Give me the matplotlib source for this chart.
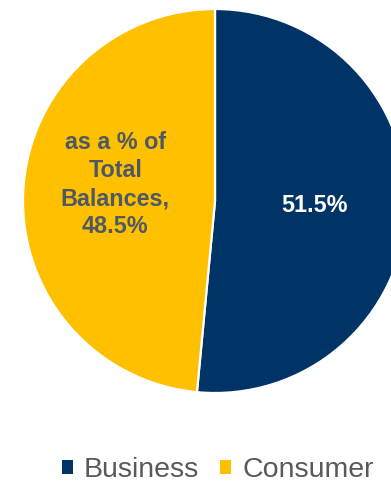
import matplotlib.pyplot as plt
from matplotlib.patches import Patch

plt.rcParams['font.family'] = ['Liberation Sans', 'DejaVu Sans']

# data
segments = ["Business", "Consumer"]
shares = [51.5, 48.5]
seg_colors = ["#003366", "#FFC000"]
label_colors = ["white", "#4F5966"]

W, H = 391, 483
fig = plt.figure(figsize=(W / 100, H / 100), dpi=100)

# pie centre (215, 201) px from top-left, radius 192 px
cx, cy, r = 215, 201, 192
ax = fig.add_axes([(cx - r) / W, (H - cy - r) / H, 2 * r / W, 2 * r / H])

wedges, texts, autotexts = ax.pie(
    shares,
    colors=seg_colors,
    startangle=90,
    counterclock=False,
    autopct=lambda p: "",
    pctdistance=0.52,
    wedgeprops=dict(edgecolor="white", linewidth=1.6),
)
ax.set_xlim(-1, 1)
ax.set_ylim(-1, 1)
ax.axis("off")

autotexts[0].set_text(f"{shares[0]:.1f}%")
autotexts[1].set_text(f"as a % of\nTotal\nBalances,\n{shares[1]:.1f}%")
x1, y1 = autotexts[1].get_position()
autotexts[1].set_position((x1, y1 + 0.06))
for t, c in zip(autotexts, label_colors):
    t.set_color(c)
    t.set_fontsize(16.8)
    t.set_fontweight("bold")
    t.set_ha("center")
    t.set_va("center")
    t.set_linespacing(1.28)

handles = [Patch(facecolor=c, edgecolor="none") for c in seg_colors]
fig.legend(
    handles,
    segments,
    loc="lower center",
    bbox_to_anchor=(0.557, 0.0),
    ncol=2,
    frameon=False,
    borderpad=0.0,
    borderaxespad=0.0,
    fontsize=20.5,
    labelcolor="#595959",
    handlelength=0.39,
    handleheight=0.39,
    handletextpad=0.39,
    columnspacing=0.74,
)

fig.savefig("out.png", dpi=100)
